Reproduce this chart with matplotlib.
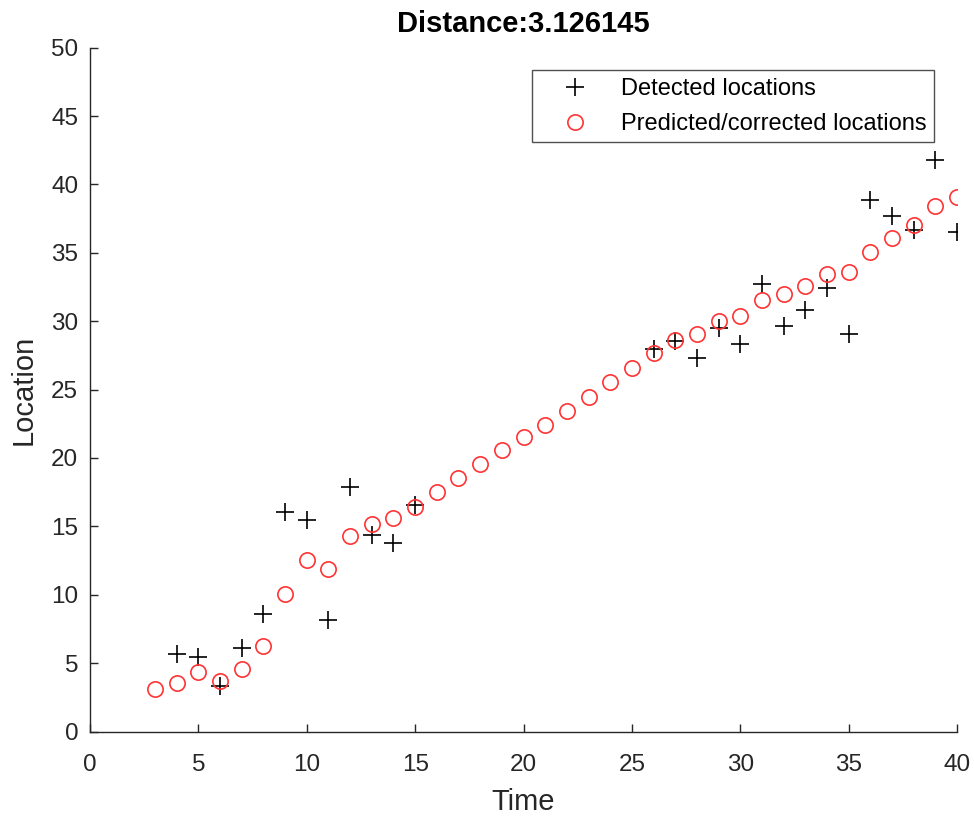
import numpy as np
import matplotlib.pyplot as plt

# Detected locations (black plus markers)
detected_t = [4, 5, 6, 7, 8, 9, 10, 11, 12, 13, 14, 15,
              26, 27, 28, 29, 30, 31, 32, 33, 34, 35, 36, 37, 38, 39, 40]
detected_loc = [5.65, 5.43, 3.33, 6.09, 8.6, 16.04, 15.45, 8.16, 17.91, 14.37, 13.79, 16.57,
                27.96, 28.57, 27.3, 29.5, 28.32, 32.74, 29.66, 30.83, 32.42, 29.06, 38.88,
                37.71, 36.64, 41.81, 36.52]

# Predicted/corrected locations (red circles)
pred_t = list(range(3, 41))
pred_loc = [3.13, 3.57, 4.33, 3.72, 4.59, 6.25, 10.04, 12.55, 11.91, 14.28, 15.16, 15.6, 16.42,
            17.54, 18.57, 19.55, 20.59, 21.57, 22.44, 23.47, 24.49, 25.54, 26.6,
            27.71, 28.64, 29.08, 30.05, 30.4, 31.52, 31.98, 32.59, 33.44, 33.59,
            35.03, 36.1, 37.0, 38.44, 39.05]

title = "Distance:3.126145"

plt.rcParams['font.family'] = ['Liberation Sans', 'DejaVu Sans']
axis_col = '#262626'

fig = plt.figure(figsize=(9.74, 8.16), dpi=100)
ax = fig.add_axes([90 / 974, 1 - 731.5 / 816, 867 / 974, (731.5 - 47.7) / 816])

ax.plot(detected_t, detected_loc, linestyle='none', marker='+', color='black',
        markersize=13, markeredgewidth=1.2, label='Detected locations')
ax.plot(pred_t, pred_loc, linestyle='none', marker='o', markerfacecolor='none',
        markeredgecolor='#ff3333', markersize=11, markeredgewidth=1.2,
        label='Predicted/corrected locations')

ax.set_xlim(0, 40)
ax.set_ylim(0, 50)
ax.set_xticks(np.arange(0, 41, 5))
ax.set_yticks(np.arange(0, 51, 5))

for side in ['top', 'right']:
    ax.spines[side].set_visible(False)
for side in ['left', 'bottom']:
    ax.spines[side].set_color(axis_col)
    ax.spines[side].set_linewidth(1.0)

ax.tick_params(direction='in', length=6, width=1.0, colors=axis_col, labelsize=17.5)
ax.tick_params(axis='x', pad=16)
ax.tick_params(axis='y', pad=8.5)

ax.set_xlabel('Time', fontsize=21, color=axis_col, labelpad=9)
ax.set_ylabel('Location', fontsize=21, color=axis_col, labelpad=10)
ax.set_title(title, fontsize=21, fontweight='bold', color='black', pad=11)

leg = ax.legend(loc='upper right', bbox_to_anchor=(0.9735, 0.967), borderaxespad=0,
                fontsize=17, frameon=True, fancybox=False, edgecolor=axis_col,
                handlelength=3.0, handletextpad=0.45, borderpad=0.32, labelspacing=0.55)
leg.get_frame().set_linewidth(1.0)

fig.savefig('out.png', dpi=100)
